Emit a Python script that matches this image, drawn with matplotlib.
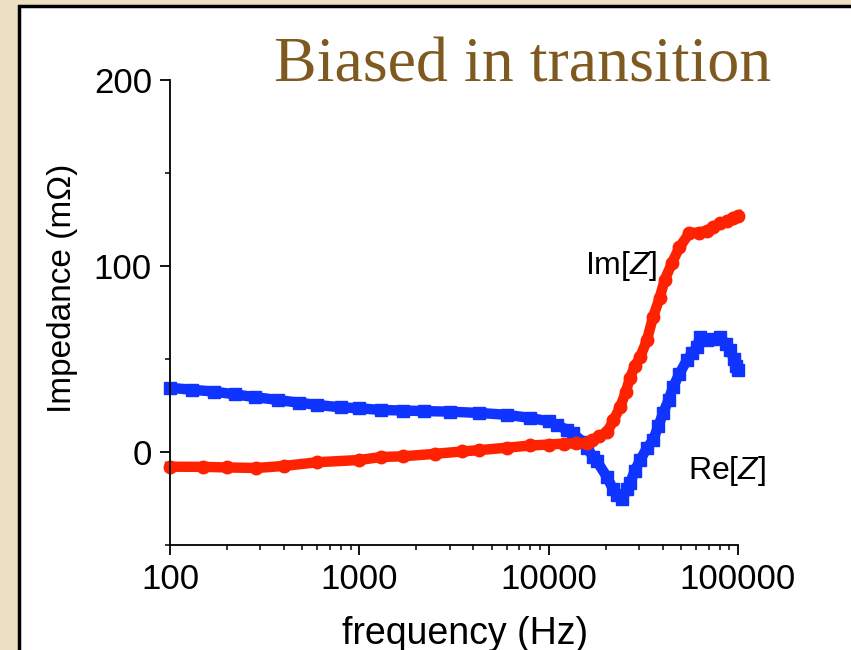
import matplotlib.pyplot as plt
from matplotlib.patches import Rectangle

# Re[Z] (blue squares)
re_freq = [100, 130, 170, 220, 280, 370, 480, 600, 800, 1000, 1300, 1700, 2200,
           3000, 4300, 6000, 8000, 10000, 11000, 12500, 13400, 15200, 16000,
           17200, 18000, 20300, 21900, 23000, 24500, 26000, 26900, 28500, 30400,
           33000, 35600, 38000, 40200, 43000, 45400, 49000, 53800, 57000, 60800,
           63000, 68700, 74000, 80400, 86000, 90800, 95000, 97700, 100000]
re_vals = [34.5, 33.5, 32.5, 31, 29.5, 28, 26.5, 25.3, 24, 23.5, 22.6, 22.3, 22,
           21.7, 21, 20, 18.3, 16.5, 14.5, 12, 10, 5.4, 2,
           -2.7, -5, -13.4, -20, -23, -25, -20, -16.7, -10, -4.3,
           2, 6.5, 14, 21, 28, 35, 42, 49.5, 53, 56.5,
           62, 60, 61, 62, 58, 55, 50, 46, 44]

# Im[Z] (red circles)
im_freq = [100, 150, 200, 285, 400, 600, 1000, 1300, 1700, 2500, 3500, 4300,
           6000, 8000, 10000, 12000, 14000, 16000, 17000, 18500, 20300, 22000,
           23800, 25500, 26900, 28500, 30400, 33000, 35600, 38600, 41000, 44800,
           49000, 55400, 62000, 68700, 74000, 80400, 87000, 94000, 100000]
im_vals = [-7.9, -8, -8.3, -8.6, -7.5, -5.5, -4.3, -2.7, -2.3, -1, 0.3, 1,
           2.3, 3.5, 4, 4.5, 4.6, 4.8, 6.5, 8.5, 10.5, 17,
           24, 32, 40, 46, 51, 60, 72.6, 83, 92.5, 101.6,
           110, 117.7, 118, 119, 121, 123, 124, 126, 127]

plt.rcParams['font.family'] = ['Liberation Sans', 'DejaVu Sans']
plt.rcParams['mathtext.fontset'] = 'custom'
plt.rcParams['mathtext.it'] = 'Liberation Sans:italic'
plt.rcParams['mathtext.rm'] = 'Liberation Sans'

fig = plt.figure(figsize=(8.51, 6.5), dpi=100)
fig.patch.set_facecolor('#eee0c2')

# white panel with black border on left and top
panel = Rectangle((19 / 851, -0.05), 1, 1.05 - 6 / 650, transform=fig.transFigure,
                  facecolor='white', edgecolor='black', linewidth=2.5, zorder=-10)
fig.patches.append(panel)

ax = fig.add_axes([170 / 851, 1 - 545 / 650, 568 / 851, 465 / 650])
ax.set_facecolor('none')

ax.plot(re_freq, re_vals, color='#1034ff', marker='s', markersize=8.5, lw=7.5,
        solid_capstyle='butt', clip_on=False)
ax.plot(im_freq, im_vals, color='#ff2200', marker='o', markersize=9, lw=7.5,
        clip_on=False)

ax.set_xscale('log')
ax.set_xlim(100, 100000)
ax.set_ylim(-50, 200)
ax.set_xticks([100, 1000, 10000, 100000])
ax.set_xticklabels(['100', '1000', '10000', '100000'])
ax.set_yticks([0, 100, 200])
ax.set_yticks([-50, 50, 150], minor=True)

for s in ['top', 'right']:
    ax.spines[s].set_visible(False)
for s in ['left', 'bottom']:
    ax.spines[s].set_linewidth(1.3)

ax.tick_params(which='major', direction='out', length=7, width=1.3,
               labelsize=25, pad=6)
ax.tick_params(which='minor', direction='out', length=3.5, width=1.1)

ax.set_xlabel('frequency (Hz)', fontsize=27)
ax.xaxis.set_label_coords(0.52, -0.152)
ax.set_ylabel('Impedance (m\u03a9)', fontsize=24)
ax.yaxis.set_label_coords(-0.162, 0.553)

ax.text(0.794, 0.60, 'Im[$Z$]', transform=ax.transAxes, fontsize=23,
        ha='center', va='center')
ax.text(0.98, 0.159, 'Re[$Z$]', transform=ax.transAxes, fontsize=23,
        ha='center', va='center')

fig.text(523 / 851, 1 - 82 / 650, 'Biased in transition', ha='center',
         va='baseline', fontsize=46, color='#7f5a20',
         family=['Liberation Serif', 'DejaVu Serif'])

fig.savefig('out.png', dpi=100, facecolor=fig.get_facecolor())
